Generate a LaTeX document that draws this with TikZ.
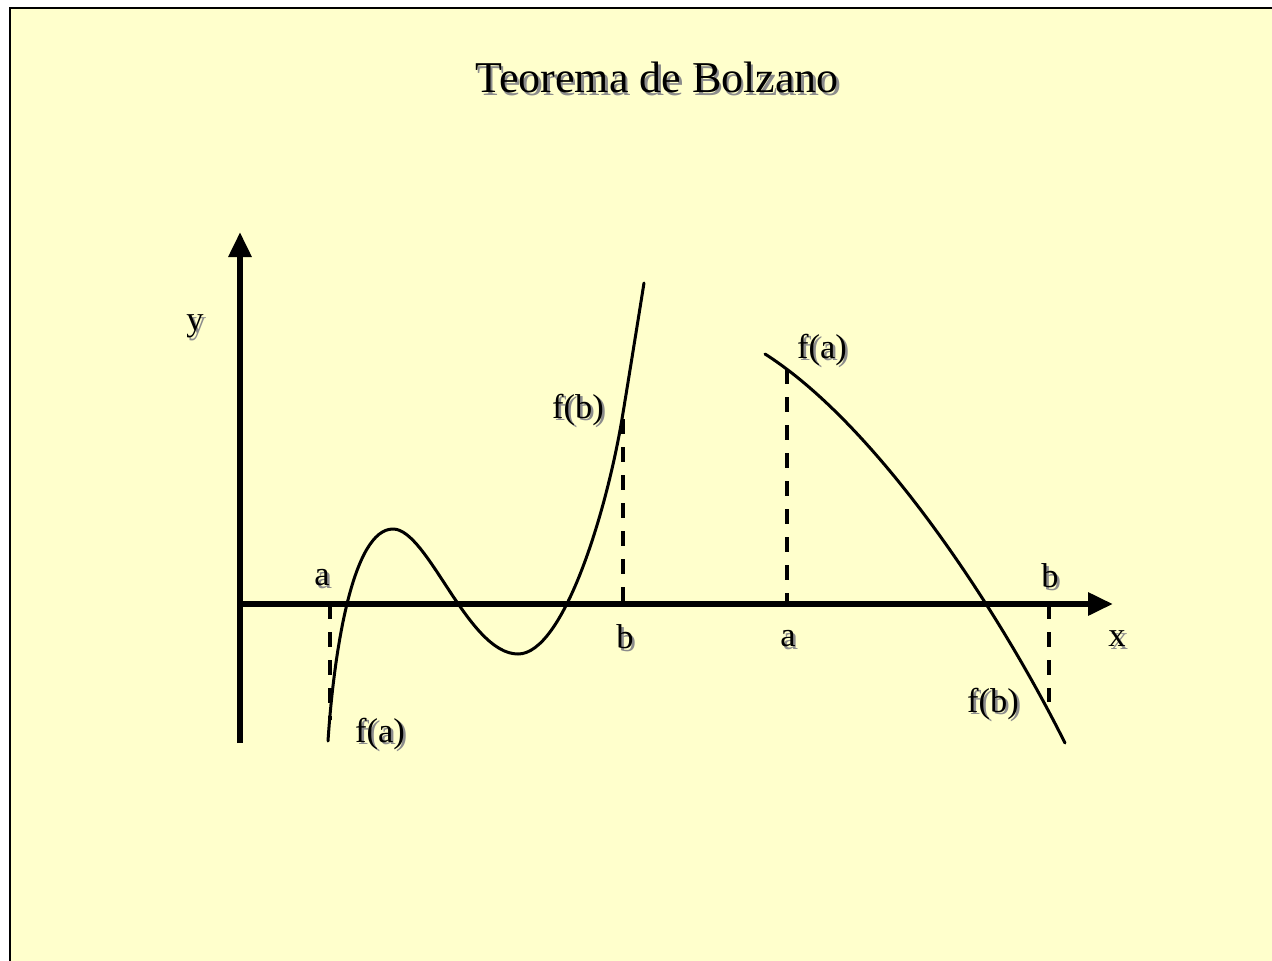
\documentclass[tikz,border=0pt]{standalone}
\usepackage{fontspec}
\setmainfont{Liberation Serif}
\usetikzlibrary{arrows.meta}
\definecolor{bg}{RGB}{255,255,204}
\definecolor{shd}{RGB}{140,140,140}
\newcommand\shtxt[1]{\leavevmode\rlap{\kern2.5pt\raisebox{-2.5pt}{\textcolor{shd}{#1}}}#1}
\tikzset{
  lab/.style={font=\fontsize{34.5}{40}\selectfont, inner sep=0pt},
  ttl/.style={font=\fontsize{44}{50}\selectfont, inner sep=0pt},
  axis/.style={line width=6pt, -{Triangle[length=25pt,width=22pt]}},
  curve/.style={line width=3pt, line join=round, line cap=round},
  guide/.style={line width=4pt, dash pattern=on 15pt off 13pt},
  frame/.style={line width=2.5pt, black}
}
\begin{document}
\begin{tikzpicture}[x=1pt,y=-1pt]
\useasboundingbox (0,0) rectangle (1272,961);
\fill[white] (0,0) rectangle (1272,961);
\fill[bg] (10,8) rectangle (1272,961);
\draw[frame] (10,961) -- (10,8) -- (1272,8);

% title
\node[ttl] (title) at (657,79) {\shtxt{Teorema de Bolzano}};

% axes
\coordinate (o1) at (240,743);
\coordinate (ytip) at (240,232);
\coordinate (o2) at (237,604);
\coordinate (xtip) at (1113,604);
\draw[axis] (o1) -- (ytip);
\draw[axis] (o2) -- (xtip);

% first curve (cubic-like)
\coordinate (c1s) at (328,741);
\coordinate (c1max) at (393,529);
\coordinate (c1min) at (518,654);
\coordinate (c1fb) at (622,419);
\coordinate (c1e) at (644,283);
\draw[curve] (c1s) .. controls (334,650) and (353,529) .. (c1max)
  .. controls (428,529) and (468,654) .. (c1min)
  .. controls (563,654) and (606,514) .. (c1fb)
  .. controls (627,389) and (640,308) .. (c1e);

% second curve (decreasing)
\coordinate (c2s) at (765,354);
\coordinate (c2e) at (1065,743);
\draw[curve] (c2s) .. controls (875,424) and (995,603) .. (c2e);

% guide lines
\coordinate (a1) at (330,604);  \coordinate (fa1) at (330,720);
\coordinate (b1) at (623,604);  \coordinate (fb1) at (623,419);
\coordinate (a2) at (787,604);  \coordinate (fa2) at (787,369);
\coordinate (b2) at (1049,604); \coordinate (fb2) at (1049,702);
\draw[guide] (a1) -- (fa1);
\draw[guide] (fb1) -- (b1);
\draw[guide] (fa2) -- (a2);
\draw[guide] (b2) -- (fb2);

% labels
\node[lab] (ly) at (195,328) {\shtxt{y}};
\node[lab] (lx) at (1117,640) {\shtxt{x}};
\node[lab] (la1) at (322,579) {\shtxt{a}};
\node[lab] (lfa1) at (380,735) {\shtxt{f(a)}};
\node[lab] (lfb1) at (578,411) {\shtxt{f(b)}};
\node[lab] (lb1) at (625,638) {\shtxt{b}};
\node[lab] (la2) at (788,640) {\shtxt{a}};
\node[lab] (lfa2) at (822,351) {\shtxt{f(a)}};
\node[lab] (lb2) at (1050,577) {\shtxt{b}};
\node[lab] (lfb2) at (993,705) {\shtxt{f(b)}};
\end{tikzpicture}
\end{document}
